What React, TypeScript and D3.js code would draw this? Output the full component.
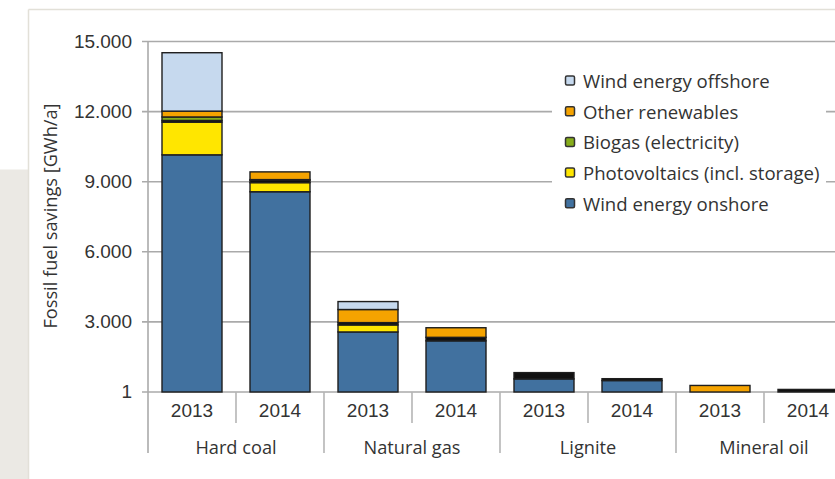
import React from "react";
import * as d3 from "d3";

const groups = ["Hard coal", "Natural gas", "Lignite", "Mineral oil"];
const years = ["2013", "2014"];

// values per slot: HC13, HC14, NG13, NG14, L13, L14, MO13, MO14
const windOnshore = [10150, 8570, 2570, 2190, 560, 490, 0, 0];
const photovoltaics = [1400, 390, 300, 0, 0, 0, 0, 0];
const hydropower = [70, 100, 100, 150, 270, 80, 0, 110];
const biogas = [150, 30, 0, 0, 0, 0, 0, 0];
const otherRenewables = [250, 330, 560, 410, 0, 0, 280, 0];
const windOffshore = [2500, 0, 340, 0, 0, 0, 0, 0];

const yTickValues = [1, 3000, 6000, 9000, 12000, 15000];
const yTickLabels = ["1", "3.000", "6.000", "9.000", "12.000", "15.000"];

const seriesNames = [
  "Wind energy onshore",
  "Photovoltaics (incl. storage)",
  "Hydropower",
  "Biogas (electricity)",
  "Other renewables",
  "Wind energy offshore",
];
const seriesValues = [windOnshore, photovoltaics, hydropower, biogas, otherRenewables, windOffshore];
const seriesColors = ["#41719f", "#ffe600", "#111111", "#86ad1a", "#f5a300", "#c6d9ee"];
const legendNames = [
  "Wind energy offshore",
  "Other renewables",
  "Biogas (electricity)",
  "Photovoltaics (incl. storage)",
  "Wind energy onshore",
];

const W = 835;
const H = 479;

export default function App() {
  const slots = d3.range(groups.length * years.length);
  const x = d3
    .scaleBand<number>()
    .domain(slots)
    .range([148, 148 + 88 * slots.length])
    .paddingInner(28 / 88)
    .paddingOuter(14 / 88);
  const slotX = (i: number) => 148 + 88 * i;
  const y = d3.scaleLinear().domain([0, 15000]).range([392, 41.5]);

  const table = slots.map((i) => {
    const row: Record<string, number> = { slot: i };
    seriesNames.forEach((n, k) => (row[n] = seriesValues[k][i]));
    return row;
  });
  const stacked = d3.stack<Record<string, number>>().keys(seriesNames)(table);

  const textColor = "#333333";
  const grid = "#aaaaaa";
  const sans = "'Open Sans', sans-serif";
  const arial = "'Liberation Sans', Arial, sans-serif";

  return (
    <svg
      width={W}
      height={H}
      style={{ position: "absolute", left: 0, top: 0, background: "#fff" }}
    >
      {/* side panel and frame */}
      <rect x={0} y={169.5} width={28} height={H - 169.5} fill="#ebe9e4" />
      <line x1={28.5} y1={9.5} x2={28.5} y2={H} stroke="#e2e0d8" strokeWidth={1.5} />
      <line x1={28.5} y1={9.5} x2={W} y2={9.5} stroke="#e2e0d8" strokeWidth={1.5} />

      {/* gridlines and ticks */}
      {yTickValues.map((v, i) => (
        <g key={i}>
          <line x1={142} x2={W} y1={y(v)} y2={y(v)} stroke={grid} strokeWidth={1.6} />
          <text
            x={132}
            y={y(v)}
            textAnchor="end"
            dominantBaseline="central"
            fontFamily={arial}
            fontSize={19}
            fill={textColor}
          >
            {yTickLabels[i]}
          </text>
        </g>
      ))}
      <line x1={148} x2={148} y1={41} y2={453} stroke={grid} strokeWidth={1.6} />

      {/* category separators */}
      {slots.map((i) =>
        i === 0 ? null : (
          <line
            key={i}
            x1={slotX(i)}
            x2={slotX(i)}
            y1={392}
            y2={i % 2 === 0 ? 453 : 423}
            stroke="#b5b5b5"
            strokeWidth={1.6}
          />
        )
      )}

      {/* bars */}
      {stacked.map((s, k) =>
        s.map((d, i) =>
          d[1] - d[0] > 0 ? (
            <rect
              key={`${k}-${i}`}
              x={x(i)}
              width={x.bandwidth()}
              y={y(d[1])}
              height={y(d[0]) - y(d[1])}
              fill={seriesColors[k]}
              stroke="#1e1e1e"
              strokeWidth={1.4}
            />
          ) : null
        )
      )}

      {/* year labels */}
      {slots.map((i) => (
        <text
          key={i}
          x={slotX(i) + 44}
          y={410}
          textAnchor="middle"
          dominantBaseline="central"
          fontFamily={arial}
          fontSize={19}
          fill={textColor}
        >
          {years[i % 2]}
        </text>
      ))}
      {/* group labels */}
      {groups.map((g, j) => (
        <text
          key={g}
          x={slotX(j * 2) + 88}
          y={447}
          textAnchor="middle"
          dominantBaseline="central"
          fontFamily={sans}
          fontSize={18.2}
          fill={textColor}
        >
          {g}
        </text>
      ))}

      {/* y label */}
      <text
        transform={`translate(50,216) rotate(-90)`}
        textAnchor="middle"
        dominantBaseline="central"
        fontFamily={sans}
        fontSize={18.2}
        fill={textColor}
      >
        Fossil fuel savings [GWh/a]
      </text>

      {/* legend */}
      <rect x={552} y={64} width={274} height={154} fill="#fff" />
      {legendNames.map((n, i) => {
        const k = seriesNames.indexOf(n);
        const cy = 80.5 + i * 30.7;
        return (
          <g key={n}>
            <rect
              x={565.5}
              y={cy - 4.5}
              width={9}
              height={9}
              rx={1.5}
              fill={seriesColors[k]}
              stroke="#333"
              strokeWidth={1.5}
            />
            <text
              x={583}
              y={cy}
              dominantBaseline="central"
              fontFamily={sans}
              fontSize={18.6}
              fill={textColor}
            >
              {n}
            </text>
          </g>
        );
      })}
    </svg>
  );
}
